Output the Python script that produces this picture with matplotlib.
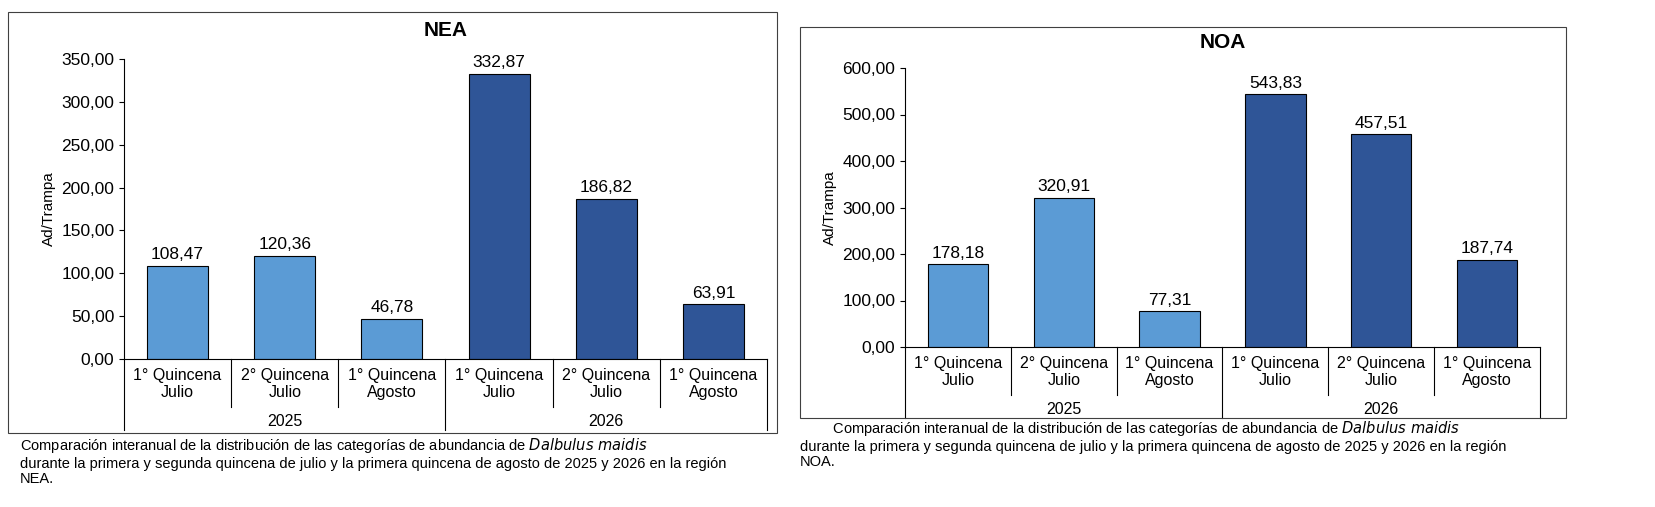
import matplotlib
matplotlib.use("Agg")
import matplotlib.pyplot as plt
from matplotlib.patches import Rectangle

plt.rcParams['font.family'] = ['Liberation Sans', 'DejaVu Sans']

categories = ["1° Quincena\nJulio", "2° Quincena\nJulio", "1° Quincena\nAgosto",
              "1° Quincena\nJulio", "2° Quincena\nJulio", "1° Quincena\nAgosto"]
years = ["2025", "2026"]
nea_values = [108.47, 120.36, 46.78, 332.87, 186.82, 63.91]
noa_values = [178.18, 320.91, 77.31, 543.83, 457.51, 187.74]
colors = ["#5B9BD5"] * 3 + ["#2F5597"] * 3

W, H = 1656, 507
fig = plt.figure(figsize=(W / 100, H / 100), dpi=100)

def fx(px): return px / W
def fy(py): return 1 - py / H

def fmt(v): return f"{v:,.2f}".replace(",", "X").replace(".", ",").replace("X", ".")

def panel(box, ax_px, title, title_y, values, ymax, step, caption, cap_y, cap_x):
    x0, y0, x1, y1 = box
    fig.patches.append(Rectangle((fx(x0), fy(y1)), fx(x1 - x0), (y1 - y0) / H,
                                 transform=fig.transFigure, fill=False, ec="#404040", lw=0.8))
    l, t, r, b = ax_px
    hpx = b - t
    ax = fig.add_axes([fx(l), fy(b), fx(r - l), hpx / H])
    n = len(values)
    xs = list(range(n))
    ax.bar(xs, values, width=0.57, color=colors, edgecolor="black", linewidth=0.8)
    ax.set_xlim(-0.5, n - 0.5)
    ax.set_ylim(0, ymax)
    ticks = [i * step for i in range(int(ymax / step) + 1)]
    ax.set_yticks(ticks)
    ax.set_yticklabels([fmt(v) for v in ticks], fontsize=12.5)
    ax.set_xticks([])
    for s in ["top", "right"]:
        ax.spines[s].set_visible(False)
    ax.spines["left"].set_linewidth(0.8)
    ax.spines["bottom"].set_linewidth(0.8)
    ax.set_ylabel("Ad/Trampa", fontsize=11)
    trans = ax.get_xaxis_transform()
    for x, v in zip(xs, values):
        ax.text(x, v + ymax * 0.012, fmt(v), ha="center", va="bottom", fontsize=12.5)
    for x, c in zip(xs, categories):
        ax.text(x, -9 / hpx, c, transform=trans, ha="center", va="top",
                fontsize=11.5, linespacing=1.2)
    for i, y in enumerate(years):
        ax.text(1 + 3 * i, -63 / hpx, y, transform=trans, ha="center",
                va="center", fontsize=11.5)
    for k in range(n + 1):
        xb = k - 0.5
        low = -48 / hpx if k % 3 else -71 / hpx
        ax.plot([xb, xb], [0, low], transform=trans, color="black", lw=0.8, clip_on=False)
    fig.text(fx((l + r) / 2), fy(title_y), title, ha="center", va="center",
             fontsize=15, fontweight="bold")
    fig.text(fx(cap_x), fy(cap_y), caption, ha="left", va="top", fontsize=10.5,
             linespacing=1.15)

cap_nea = ("Comparación interanual de la distribución de las categorías de abundancia de $\\it{Dalbulus\\ maidis}$\n"
           "durante la primera y segunda quincena de julio y la primera quincena de agosto de 2025 y 2026 en la región\n"
           "NEA.")
cap_noa = ("        Comparación interanual de la distribución de las categorías de abundancia de $\\it{Dalbulus\\ maidis}$\n"
           "durante la primera y segunda quincena de julio y la primera quincena de agosto de 2025 y 2026 en la región\n"
           "NOA.")

panel((8, 12, 777, 433), (124, 59, 767, 359), "NEA", 30, nea_values, 350, 50, cap_nea, 436, 20)
panel((800, 27, 1566, 418), (905, 68, 1540, 347), "NOA", 43, noa_values, 600, 100, cap_noa, 419, 800)

fig.savefig("out.png", dpi=100, facecolor="white")
